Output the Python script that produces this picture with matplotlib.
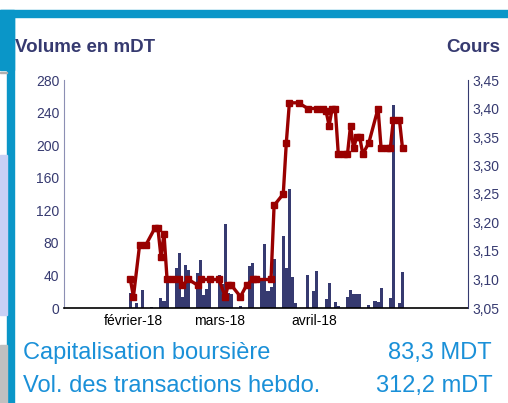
import matplotlib
matplotlib.use("Agg")
import matplotlib.pyplot as plt
from matplotlib.patches import Rectangle
from matplotlib.ticker import FuncFormatter
import pandas as pd

plt.rcParams['font.family'] = ['Liberation Sans', 'DejaVu Sans']

# volume quotidien (mDT)
vol_dates = ["2018-01-31", "2018-02-02", "2018-02-04", "2018-02-07", "2018-02-10",
             "2018-02-11", "2018-02-12", "2018-02-15", "2018-02-16", "2018-02-17",
             "2018-02-18", "2018-02-19", "2018-02-22", "2018-02-23", "2018-02-24",
             "2018-02-25", "2018-02-26", "2018-03-01", "2018-03-02", "2018-03-03",
             "2018-03-04", "2018-03-05", "2018-03-08", "2018-03-11", "2018-03-12",
             "2018-03-15", "2018-03-16", "2018-03-17", "2018-03-18", "2018-03-19",
             "2018-03-22", "2018-03-23", "2018-03-24", "2018-03-25", "2018-03-26",
             "2018-03-30", "2018-04-01", "2018-04-02", "2018-04-05", "2018-04-06",
             "2018-04-08", "2018-04-09", "2018-04-12", "2018-04-13", "2018-04-14",
             "2018-04-15", "2018-04-16", "2018-04-19", "2018-04-21", "2018-04-22",
             "2018-04-23", "2018-04-26", "2018-04-27", "2018-04-29", "2018-04-30"]
volumes = [18, 6, 22, 1, 12, 8, 36, 49, 67, 14,
           53, 47, 43, 59, 16, 23, 34, 41, 30, 103,
           18, 17, 2, 51, 55, 33, 78, 21, 26, 60,
           89, 49, 146, 38, 6, 40, 21, 46, 11, 31,
           7, 2, 14, 22, 17, 17, 17, 4, 9, 7,
           25, 12, 249, 6, 44]

# cours
px_dates = ["2018-01-31", "2018-02-01", "2018-02-03", "2018-02-05", "2018-02-08",
            "2018-02-09", "2018-02-10", "2018-02-11", "2018-02-12", "2018-02-14",
            "2018-02-16", "2018-02-17", "2018-02-19", "2018-02-22", "2018-02-23",
            "2018-02-26", "2018-03-01", "2018-03-03", "2018-03-04", "2018-03-05",
            "2018-03-08", "2018-03-10", "2018-03-12", "2018-03-13", "2018-03-18",
            "2018-03-19", "2018-03-22", "2018-03-23", "2018-03-24", "2018-03-27",
            "2018-03-30", "2018-04-02", "2018-04-04", "2018-04-05", "2018-04-06",
            "2018-04-07", "2018-04-08", "2018-04-09", "2018-04-11", "2018-04-12",
            "2018-04-13", "2018-04-14", "2018-04-15", "2018-04-16", "2018-04-17",
            "2018-04-19", "2018-04-22", "2018-04-23", "2018-04-25", "2018-04-26",
            "2018-04-27", "2018-04-29", "2018-04-30"]
prices = [3.10, 3.07, 3.16, 3.16, 3.19, 3.19, 3.14, 3.18, 3.10, 3.10,
          3.10, 3.09, 3.10, 3.09, 3.10, 3.10, 3.10, 3.07, 3.09, 3.09,
          3.07, 3.09, 3.10, 3.10, 3.10, 3.23, 3.25, 3.34, 3.41, 3.41,
          3.40, 3.40, 3.40, 3.395, 3.37, 3.40, 3.40, 3.32, 3.32, 3.32,
          3.37, 3.33, 3.35, 3.35, 3.32, 3.34, 3.40, 3.33, 3.33, 3.33,
          3.38, 3.38, 3.33]

month_ticks = ["2018-02-01", "2018-03-01", "2018-04-01"]
month_labels = ["février-18", "mars-18", "avril-18"]

navy = "#363a70"
red = "#990000"
blue = "#0a96c8"
txt_blue = "#1a90d8"

W, H = 508, 403
fig = plt.figure(figsize=(W / 100, H / 100), dpi=100)

# cadre bleu
fig.patches.append(Rectangle((0, 1 - 17 / H), 1, 7 / H, transform=fig.transFigure,
                             color=blue, zorder=0))
fig.patches.append(Rectangle((0, 1 - 70 / H), 14 / W, 60 / H, transform=fig.transFigure,
                             color=blue, zorder=0))
fig.patches.append(Rectangle((7 / W, 0), 7 / W, 1 - 17 / H, transform=fig.transFigure,
                             color=blue, zorder=0))
fig.patches.append(Rectangle((0, 1 - 315 / H), 7 / W, 160 / H, transform=fig.transFigure,
                             color="#c8d0f5", zorder=0))
fig.patches.append(Rectangle((0, 0), 7 / W, 58 / H, transform=fig.transFigure,
                             color="#c0c0c0", zorder=0))
fig.patches.append(Rectangle((0, 1 - 73 / H), 7 / W, 1 / H, transform=fig.transFigure,
                             color="#b0b0b0", zorder=0))

ax = fig.add_axes([64 / W, (H - 308) / H, (468 - 64) / W, (308 - 80) / H])
ax2 = ax.twinx()

vd = pd.to_datetime(vol_dates)
pd_ = pd.to_datetime(px_dates)

ax.bar(vd, volumes, width=1.0, color=navy, align="center", lw=0)
ax.set_ylim(0, 280)
ax.set_yticks(range(0, 281, 40))
ax.set_xlim(pd.Timestamp("2018-01-09 07:00"), pd.Timestamp("2018-05-21 10:00"))
ax.set_xticks(pd.to_datetime(month_ticks))
ax.set_xticklabels(month_labels)

ax2.plot(pd_, prices, color=red, lw=2.4, marker="s", ms=4.8, mec=red, mfc=red)
ax2.set_ylim(3.05, 3.45)
ax2.set_yticks([3.05 + 0.05 * i for i in range(9)])
ax2.yaxis.set_major_formatter(FuncFormatter(lambda v, p: f"{v:.2f}".replace(".", ",")))

for a in (ax, ax2):
    a.spines["top"].set_visible(False)
    a.set_facecolor("none")
ax.spines["right"].set_visible(False)
ax.spines["left"].set_color("#8c8fb4")
ax2.spines["left"].set_visible(False)
ax2.spines["bottom"].set_visible(False)
ax2.spines["right"].set_color(navy)
ax.spines["bottom"].set_color("black")
ax.spines["bottom"].set_linewidth(1.2)

ax.tick_params(axis="y", length=0, pad=3.5, labelsize=10, labelcolor=navy)
ax.tick_params(axis="x", length=0, pad=4, labelsize=10, labelcolor="black")
ax2.tick_params(axis="y", length=0, pad=3, labelsize=10, labelcolor=navy)

fig.text(15 / W, 1 - 47 / H, "Volume en mDT", fontsize=13.5, fontweight="bold",
         color=navy, va="center", ha="left")
fig.text(500 / W, 1 - 47 / H, "Cours", fontsize=13.5, fontweight="bold",
         color=navy, va="center", ha="right")

fig.text(23 / W, 1 - 353 / H, "Capitalisation boursière", fontsize=17,
         color=txt_blue, va="center", ha="left")
fig.text(492 / W, 1 - 353 / H, "83,3 MDT", fontsize=17,
         color=txt_blue, va="center", ha="right")
fig.text(23 / W, 1 - 386 / H, "Vol. des transactions hebdo.", fontsize=17,
         color=txt_blue, va="center", ha="left")
fig.text(493 / W, 1 - 386 / H, "312,2 mDT", fontsize=17,
         color=txt_blue, va="center", ha="right")

fig.savefig("out.png", dpi=100)
